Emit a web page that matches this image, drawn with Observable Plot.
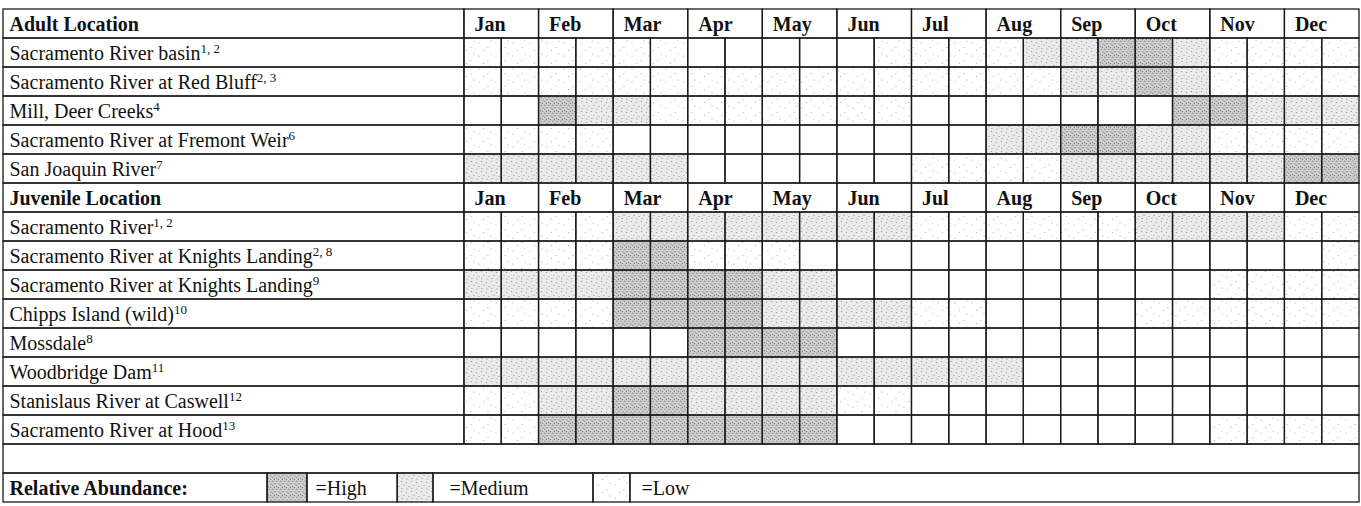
<!DOCTYPE html>
<html><head><meta charset="utf-8">
<script src="https://cdn.jsdelivr.net/npm/d3@7"></script>
<script src="https://cdn.jsdelivr.net/npm/@observablehq/plot@0.6"></script>
<style>
body{margin:0;background:#fff;}
#chart svg{display:block;background:#fff;}
</style></head><body><div id="chart"></div>
<script>
// ---------- data ----------
const months = ["Jan","Feb","Mar","Apr","May","Jun","Jul","Aug","Sep","Oct","Nov","Dec"];
const adultLocations = ["Sacramento River basin","Sacramento River at Red Bluff","Mill, Deer Creeks","Sacramento River at Fremont Weir","San Joaquin River"];
const adultNotes = ["1, 2","2, 3","4","6","7"];
const juvenileLocations = ["Sacramento River","Sacramento River at Knights Landing","Sacramento River at Knights Landing","Chipps Island (wild)","Mossdale","Woodbridge Dam","Stanislaus River at Caswell","Sacramento River at Hood"];
const juvenileNotes = ["1, 2","2, 8","9","10","8","11","12","13"];
// abundance per half month: 0 = none, 1 = low, 2 = medium, 3 = high
const adultAbundance = [
  [1,1,1,1,1,1,0,0,0,0,0,1, 1,1,1,2,2,3,3,2,1,1,1,1],
  [1,1,1,1,1,1,1,1,1,1,1,1, 1,1,1,1,2,2,3,2,1,1,1,1],
  [0,0,3,2,2,1,1,1,1,1,1,1, 0,0,0,0,0,0,0,3,3,2,2,2],
  [1,1,1,1,0,0,0,0,0,0,0,0, 0,0,2,2,3,3,2,2,1,1,1,1],
  [2,2,2,2,2,2,0,0,0,0,0,0, 1,1,1,1,2,2,2,2,2,2,3,3]
];
const juvenileAbundance = [
  [1,1,1,1,2,2,2,2,2,2,2,2, 1,1,1,1,1,1,2,2,2,2,1,1],
  [1,1,1,1,3,3,1,1,1,0,0,0, 0,0,0,0,0,0,0,0,0,0,0,1],
  [2,2,2,2,3,3,3,3,2,2,0,0, 0,0,0,0,0,0,0,0,1,1,1,1],
  [1,1,1,1,3,3,3,3,2,2,2,2, 1,1,0,0,0,0,1,1,1,1,1,1],
  [0,0,0,0,0,0,3,3,3,3,0,0, 0,0,0,0,0,0,0,0,0,0,0,0],
  [2,2,2,2,2,2,2,2,2,2,2,2, 2,2,2,0,0,0,0,0,0,0,0,0],
  [1,1,2,2,3,3,2,2,2,2,1,1, 0,0,0,0,0,0,0,0,0,0,0,0],
  [1,1,3,3,3,3,3,3,3,3,0,0, 0,0,0,0,0,0,0,0,1,1,1,1]
];
const headerTitles = ["Adult Location","Juvenile Location"];
const legendTitle = "Relative Abundance:";
const legendLevels = [3,2,1];
const legendLabels = ["=High","=Medium","=Low"];

// ---------- layout / style ----------
const FONT = "'Liberation Serif','Times New Roman',Times,serif";
const FS = 20;
const LABEL_SPAN = 12.36;                 // width of label column, in half-month units
const legendEdges = [-LABEL_SPAN, -5.28, -4.21, -1.79, -0.83, 3.46, 4.45, 24];
const legendTextPad = [8, 16, 11];
const LINE = "#1a1a1a", LW = 1.3;
const patternId = {1: "ab-low", 2: "ab-med", 3: "ab-high"};

// ---------- derived tables ----------
const adultIds = adultLocations.map((_, k) => "a" + k);
const juvIds = juvenileLocations.map((_, k) => "j" + k);
const rowIds = ["hA", ...adultIds, "hJ", ...juvIds, "blank", "legend"];
const dataRows = [
  ...adultIds.map((id, k) => ({row: id, label: adultLocations[k] + "^" + adultNotes[k], values: adultAbundance[k]})),
  ...juvIds.map((id, k) => ({row: id, label: juvenileLocations[k] + "^" + juvenileNotes[k], values: juvenileAbundance[k]}))
];
const cells = dataRows.flatMap(r => r.values.map((level, i) => ({row: r.row, i, level})));
const headerRows = [{row: "hA", label: headerTitles[0]}, {row: "hJ", label: headerTitles[1]}];
const monthCells = headerRows.flatMap(h => months.map((m, k) => ({row: h.row, m, k})));
const labelCells = [...headerRows, ...dataRows];
const legendCells = legendEdges.slice(0, -1).map((x1, k) => ({x1, x2: legendEdges[k + 1]}));
const legendSwatches = legendLevels.map((level, k) => ({level, x1: legendEdges[2 * k + 1], x2: legendEdges[2 * k + 2]}));
const legendTexts = legendLabels.map((t, k) => ({text: t, x: legendEdges[2 * k + 2], k}));

const fillMarks = [1, 2, 3].flatMap(level => [
  Plot.barX(cells.filter(d => d.level === level), {x1: "i", x2: d => d.i + 1, y: "row", fill: `url(#${patternId[level]})`, inset: 0}),
  Plot.barX(legendSwatches.filter(d => d.level === level), {x1: "x1", x2: "x2", y: () => "legend", fill: `url(#${patternId[level]})`, inset: 0})
]);
const strokeOpts = {fill: "none", stroke: LINE, strokeWidth: LW, inset: 0};

const chart = Plot.plot({
  width: 1361, height: 506,
  marginTop: 5, marginBottom: 1, marginLeft: 3, marginRight: 2,
  x: {domain: [-LABEL_SPAN, 24], axis: null},
  y: {domain: rowIds, axis: null, padding: 0},
  style: {fontFamily: FONT, background: "#fff"},
  marks: [
    ...fillMarks,
    Plot.barX(cells, {x1: "i", x2: d => d.i + 1, y: "row", ...strokeOpts}),
    Plot.barX(monthCells, {x1: d => 2 * d.k, x2: d => 2 * d.k + 2, y: "row", ...strokeOpts}),
    Plot.barX(labelCells, {x1: () => -LABEL_SPAN, x2: () => 0, y: "row", ...strokeOpts}),
    Plot.barX(["blank"], {x1: () => -LABEL_SPAN, x2: () => 24, y: d => d, ...strokeOpts}),
    Plot.barX(legendCells, {x1: "x1", x2: "x2", y: () => "legend", ...strokeOpts}),
    Plot.text(dataRows, {x: () => -LABEL_SPAN, y: "row", text: "label", textAnchor: "start", dx: 6, dy: 1, fontSize: FS, fill: "#111"}),
    Plot.text(headerRows, {x: () => -LABEL_SPAN, y: "row", text: "label", textAnchor: "start", dx: 6, dy: 1, fontSize: FS, fontWeight: "bold", fill: "#111"}),
    Plot.text(monthCells, {x: d => 2 * d.k, y: "row", text: "m", textAnchor: "start", dx: 10, dy: 1, fontSize: FS, fontWeight: "bold", fill: "#111"}),
    Plot.text([legendTitle], {x: () => -LABEL_SPAN, y: () => "legend", text: d => d, textAnchor: "start", dx: 6, dy: 1, fontSize: FS, fontWeight: "bold", fill: "#111"}),
    ...legendTexts.map(d => Plot.text([d], {x: "x", y: () => "legend", text: "text", textAnchor: "start", dx: legendTextPad[d.k], dy: 1, fontSize: FS, fill: "#111"}))
  ]
});

// stipple patterns
const svg = d3.select(chart);
const defs = svg.insert("defs", ":first-child");
function pattern(id, w, h, bg, dotColor, r, dots) {
  const p = defs.append("pattern").attr("id", id).attr("patternUnits", "userSpaceOnUse").attr("width", w).attr("height", h);
  p.append("rect").attr("width", w).attr("height", h).attr("fill", bg);
  dots.forEach(([x, y]) => p.append("circle").attr("cx", x).attr("cy", y).attr("r", r).attr("fill", dotColor));
}
pattern("ab-high", 8, 8, "#cbcbcb", "#747474", 0.6, [[1,1],[5,1.5],[3,3.5],[7,4],[1,5.5],[4.5,6.5],[6.5,7.5],[2.5,7.5]]);
pattern("ab-med", 10, 10, "#eaeaea", "#8a8a8a", 0.55, [[1.5,1.5],[6.5,2.5],[4,5.5],[9,6.5],[2,8.5],[7,9]]);
pattern("ab-low", 17, 13, "#ffffff", "#a5a5a5", 0.55, [[3,4],[12,8.5],[7.5,11.5],[15,2]]);

// superscript footnotes
svg.selectAll("text").each(function () {
  const t = this.textContent;
  if (!t.includes("^")) return;
  const [base, sup] = t.split("^");
  const el = d3.select(this);
  el.text(null);
  el.append("tspan").text(base);
  el.append("tspan").attr("font-size", 13).attr("dy", "-0.55em").text(sup);
});

document.getElementById("chart").append(chart);
</script></body></html>
